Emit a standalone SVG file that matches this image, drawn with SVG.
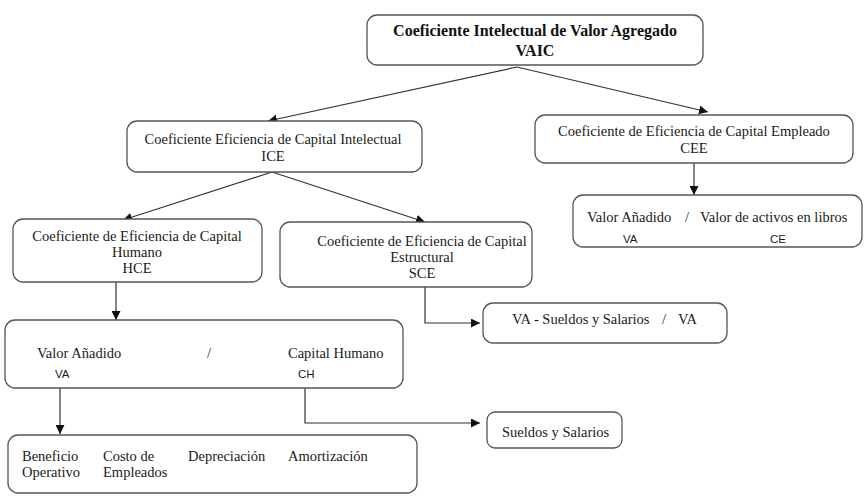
<svg xmlns="http://www.w3.org/2000/svg" width="867" height="496" viewBox="0 0 867 496">
<defs>
<style>
.box{fill:#fff;stroke:#555;stroke-width:1.3}
.t{font-family:"Liberation Serif","Times New Roman",serif;font-size:14.5px;fill:#1a1a1a}
.tb{font-family:"Liberation Serif","Times New Roman",serif;font-size:16px;font-weight:bold;fill:#111}
.s{font-family:"Liberation Sans",Arial,sans-serif;font-size:11.5px;fill:#1a1a1a}
.c{fill:none;stroke:#333;stroke-width:1.2}
</style>
<marker id="ah" viewBox="0 0 10 10" refX="10" refY="5" markerWidth="9" markerHeight="9" markerUnits="userSpaceOnUse" orient="auto">
<path d="M0,0 L10,5 L0,10 z" fill="#111"/>
</marker>
</defs>
<rect width="867" height="496" fill="#fff"/>
<g id="connectors">
<line class="c" x1="517" y1="67" x2="268" y2="121" marker-end="url(#ah)"/>
<line class="c" x1="517" y1="67" x2="708" y2="112" marker-end="url(#ah)"/>
<line class="c" x1="694" y1="163" x2="694" y2="195" marker-end="url(#ah)"/>
<line class="c" x1="272" y1="172" x2="123" y2="220" marker-end="url(#ah)"/>
<line class="c" x1="272" y1="172" x2="425" y2="222" marker-end="url(#ah)"/>
<line class="c" x1="116" y1="282" x2="116" y2="320" marker-end="url(#ah)"/>
<polyline class="c" points="425,287 425,323 480,323" marker-end="url(#ah)"/>
<line class="c" x1="60" y1="388" x2="60" y2="434" marker-end="url(#ah)"/>
<polyline class="c" points="305,388 305,423 480,423" marker-end="url(#ah)"/>
</g>
<g id="vaic">
<rect class="box" x="367" y="15" width="336" height="50" rx="10"/>
<text class="tb" x="535" y="36" text-anchor="middle">Coeficiente Intelectual de Valor Agregado</text>
<text class="tb" x="535" y="56" text-anchor="middle">VAIC</text>
</g>
<g id="ice">
<rect class="box" x="127" y="121" width="295" height="51" rx="10"/>
<text class="t" x="273" y="144" text-anchor="middle">Coeficiente Eficiencia de Capital Intelectual</text>
<text class="t" x="273" y="161" text-anchor="middle">ICE</text>
</g>
<g id="cee">
<rect class="box" x="535" y="115" width="318" height="48" rx="10"/>
<text class="t" x="694" y="136" text-anchor="middle">Coeficiente de Eficiencia de Capital Empleado</text>
<text class="t" x="694" y="153" text-anchor="middle">CEE</text>
</g>
<g id="vace">
<rect class="box" x="573" y="195" width="289" height="52" rx="10"/>
<text class="t" x="587" y="222">Valor Añadido</text>
<text class="t" x="685" y="222">/</text>
<text class="t" x="700" y="222">Valor de activos en libros</text>
<text class="s" x="623" y="243">VA</text>
<text class="s" x="770" y="243">CE</text>
</g>
<g id="hce">
<rect class="box" x="13" y="219" width="249" height="63" rx="10"/>
<text class="t" x="137" y="241" text-anchor="middle">Coeficiente de Eficiencia de Capital</text>
<text class="t" x="137" y="257" text-anchor="middle">Humano</text>
<text class="t" x="137" y="273" text-anchor="middle">HCE</text>
</g>
<g id="sce">
<rect class="box" x="280" y="222" width="252" height="65" rx="10"/>
<text class="t" x="422" y="246" text-anchor="middle">Coeficiente de Eficiencia de Capital</text>
<text class="t" x="422" y="262" text-anchor="middle">Estructural</text>
<text class="t" x="422" y="278" text-anchor="middle">SCE</text>
</g>
<g id="vasueldos">
<rect class="box" x="483" y="303" width="244" height="40" rx="10"/>
<text class="t" x="512" y="324">VA - Sueldos y Salarios</text>
<text class="t" x="662" y="324">/</text>
<text class="t" x="678" y="324">VA</text>
</g>
<g id="vach">
<rect class="box" x="5" y="320" width="398" height="68" rx="10"/>
<text class="t" x="37" y="358">Valor Añadido</text>
<text class="t" x="207" y="358">/</text>
<text class="t" x="288" y="358">Capital Humano</text>
<text class="s" x="55" y="378">VA</text>
<text class="s" x="298" y="378">CH</text>
</g>
<g id="sueldos">
<rect class="box" x="487" y="412" width="135" height="36" rx="8"/>
<text class="t" x="502" y="437">Sueldos y Salarios</text>
</g>
<g id="componentes">
<rect class="box" x="8" y="435" width="409" height="58" rx="10"/>
<text class="t" x="22" y="461">Beneficio</text>
<text class="t" x="22" y="477">Operativo</text>
<text class="t" x="103" y="461">Costo de</text>
<text class="t" x="103" y="477">Empleados</text>
<text class="t" x="188" y="461">Depreciación</text>
<text class="t" x="288" y="461">Amortización</text>
</g>
</svg>
